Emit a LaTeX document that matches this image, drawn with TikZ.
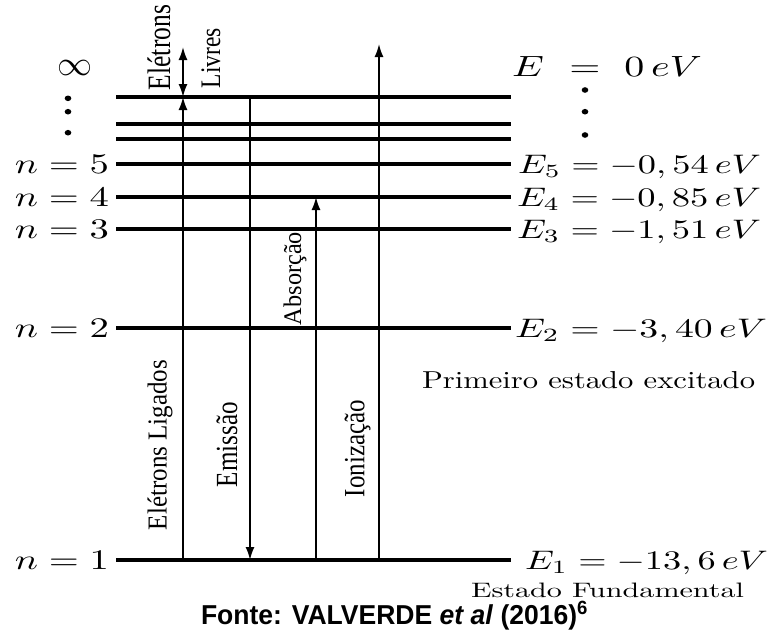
\documentclass[tikz,border=0pt]{standalone}
\usepackage{fontspec}
\usepackage{graphicx}
\usetikzlibrary{arrows.meta}
\newfontfamily\serifL{Liberation Serif}
\newfontfamily\sansL{Liberation Sans}
\newcommand{\fitto}[3]{\resizebox{#1pt}{#2pt}{#3}}
\newcommand{\rotlab}[3]{\resizebox{#1pt}{#2pt}{\rotatebox{90}{\serifL\fontsize{25}{28}\selectfont #3}}}
\tikzset{
  level/.style={line width=3.2pt},
  vline/.style={line width=1.7pt},
  tip/.tip={Latex[length=13pt,width=9pt]},
  arr/.style={vline,-tip},
  darr/.style={vline,tip-tip},
  lbl/.style={inner sep=0pt,outer sep=0pt},
  vdot/.style={fill=black,draw=none},
}
\begin{document}
\begin{tikzpicture}[x=1pt,y=-1pt]
\useasboundingbox (0,0) rectangle (778,630);

% energy levels
\foreach \nm/\yy in {Linf/97,La/124,Lb/139,L5/164,L4/197,L3/229,L2/328,L1/560}{
  \coordinate (\nm w) at (116,\yy);
  \coordinate (\nm e) at (511,\yy);
  \draw[level] (\nm w) -- (\nm e);
}

% left labels
\node[lbl,anchor=center] (inf) at (75,67.5) {\fitto{35}{15}{$\infty$}};
\foreach \k/\yy in {5/164,4/197,3/229,2/328,1/560}{
  \node[lbl,anchor=base east] (n\k) at (109,\yy+9.5) {\fitto{94}{18.3}{$n=\k$}};
}
\fill[vdot] (68,98.3) ellipse (3.3 and 2.8);
\fill[vdot] (68,111.7) ellipse (3.3 and 2.8);
\fill[vdot] (68,132.7) ellipse (3.3 and 2.8);

% right labels
\node[lbl,anchor=base west] (E0) at (512,76)
  {\fitto{190}{20}{$E\hskip0.36em=\hskip0.32em0\,eV$}};
\fill[vdot] (585,90) ellipse (3.3 and 2.8);
\fill[vdot] (585,111.7) ellipse (3.3 and 2.8);
\fill[vdot] (585,135) ellipse (3.3 and 2.8);
\node[lbl,anchor=base west] (E5) at (518,173) {\fitto{243}{18.3}{$E_5=-0,54\,eV$}};
\node[lbl,anchor=base west] (E4) at (517,206) {\fitto{244}{18.3}{$E_4=-0,85\,eV$}};
\node[lbl,anchor=base west] (E3) at (517,238) {\fitto{244}{18.3}{$E_3=-1,51\,eV$}};
\node[lbl,anchor=base west] (E2) at (515,337) {\fitto{252}{18.3}{$E_2=-3,40\,eV$}};
\node[lbl,anchor=base west] (E1) at (525,569) {\fitto{243}{18.3}{$E_1=-13,6\,eV$}};
\node[lbl,anchor=base west] (prim) at (422,388) {\fitto{333}{17}{Primeiro estado excitado}};
\node[lbl,anchor=base west] (fund) at (471,597) {\fitto{273}{14.5}{Estado Fundamental}};

% transitions
\coordinate (ligB) at (183,560);
\coordinate (ligT) at (183,97);
\coordinate (livT) at (183,47);
\draw[arr] (ligB) -- (ligT);
\draw[darr] (ligT) -- (livT);
\coordinate (emT) at (250,97);
\coordinate (emB) at (250,560);
\draw[arr] (emT) -- (emB);
\coordinate (abB) at (316,560);
\coordinate (abT) at (316,197);
\draw[arr] (abB) -- (abT);
\coordinate (ioB) at (379,560);
\coordinate (ioT) at (379,44);
\draw[arr] (ioB) -- (ioT);

% rotated labels
\node[lbl] (eletrons) at (159,47.5) {\rotlab{23}{85}{Elétrons}};
\node[lbl] (livres) at (211,58) {\rotlab{19}{60}{Livres}};
\node[lbl] (absor) at (295,278.5) {\rotlab{23}{93}{Absorção}};
\node[lbl] (ligados) at (160,445) {\rotlab{25}{170}{Elétrons Ligados}};
\node[lbl] (emis) at (227,444.5) {\rotlab{21}{85}{Emissão}};
\node[lbl] (ioniz) at (357.5,448.5) {\rotlab{26}{97}{Ionização}};

% caption
\node[lbl,anchor=base west] (fonte) at (201,624)
  {\fitto{387}{22.5}{\sansL\bfseries\fontsize{27}{30}\selectfont Fonte: VALVERDE \textit{et al} (2016)\textsuperscript{6}}};
\end{tikzpicture}
\end{document}
